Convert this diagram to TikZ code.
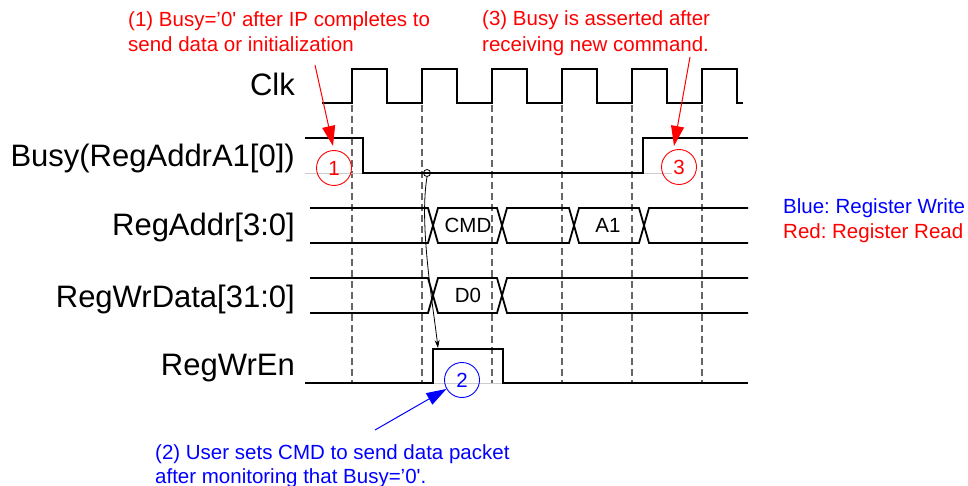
\documentclass[tikz,border=0pt]{standalone}
\usepackage{fontspec}
\setmainfont{Liberation Sans}
\usetikzlibrary{arrows.meta}
\frenchspacing
\begin{document}
\begin{tikzpicture}[x=1pt,y=-1pt,
  sig/.style={line width=1.8pt,black,line join=miter},
  gridline/.style={line width=1.3pt,black!60,dash pattern=on 7pt off 4pt},
  faint/.style={line width=0.8pt,black!20},
  lbl/.style={anchor=base east,font=\fontsize{31}{36}\selectfont,inner sep=0pt},
  small/.style={font=\fontsize{20.5}{25}\selectfont,inner sep=0pt},
  note/.style={small,anchor=base west},
  numcirc/.style={circle,draw,line width=0.9pt,minimum size=35pt,inner sep=0pt,small},
  redarrow/.style={red,line width=1pt,-{Triangle[length=20pt,width=13pt]}},
  bluearrow/.style={blue,line width=1pt,-{Triangle[length=20pt,width=13pt]}},
  blackarrow/.style={black,line width=0.8pt,-{Stealth[length=8pt,width=5pt]}}
]
\useasboundingbox (0,0) rectangle (968,486);

% dashed clock-edge guides
\foreach \x in {352,422,492,562,632,702}
  \draw[gridline] (\x,105) -- (\x,383);

% faint traces
\draw[faint] (305,173) -- (363,173);
\draw[faint] (643,173) -- (672,173);
\draw[faint] (433,383) -- (503,383);

% signal labels
\node[lbl] (lclk) at (295,96) {Clk};
\node[lbl] (lbusy) at (295,167) {Busy(RegAddrA1[0])};
\node[lbl] (laddr) at (295,236) {RegAddr[3:0]};
\node[lbl] (ldata) at (295,307) {RegWrData[31:0]};
\node[lbl] (lwren) at (295,375) {RegWrEn};

% Clk
\draw[sig] (322,103) -- (352,103) -- (352,69) -- (387,69) -- (387,103)
  -- (422,103) -- (422,69) -- (457,69) -- (457,103)
  -- (492,103) -- (492,69) -- (527,69) -- (527,103)
  -- (562,103) -- (562,69) -- (597,69) -- (597,103)
  -- (632,103) -- (632,69) -- (667,69) -- (667,103)
  -- (702,103) -- (702,69) -- (737,69) -- (737,103) -- (743,103);

% Busy
\draw[sig] (305,138) -- (363,138) -- (363,173) -- (643,173) -- (643,138) -- (748,138);

% RegAddr bus
\draw[sig] (310,208) -- (428,208) -- (438,243) -- (497,243) -- (507,208) -- (569,208)
  -- (579,243) -- (639,243) -- (649,208) -- (748,208);
\draw[sig] (310,243) -- (428,243) -- (438,208) -- (497,208) -- (507,243) -- (569,243)
  -- (579,208) -- (639,208) -- (649,243) -- (748,243);
\node[small] (cmd) at (468,225.5) {CMD};
\node[small] (a1) at (608,225.5) {A1};

% RegWrData bus
\draw[sig] (310,278) -- (428,278) -- (438,313) -- (497,313) -- (507,278) -- (748,278);
\draw[sig] (310,313) -- (428,313) -- (438,278) -- (497,278) -- (507,313) -- (748,313);
\node[small] (d0) at (468,295.5) {D0};

% RegWrEn
\draw[sig] (305,383) -- (433,383) -- (433,349) -- (503,349) -- (503,383) -- (748,383);

% numbered circles
\node[numcirc,draw=red,text=red] (c1) at (334,168) {1};
\node[numcirc,draw=red,text=red] (c3) at (679,167) {3};
\node[numcirc,draw=blue,text=blue] (c2) at (462,380) {2};

% monitoring marker and causal arrow
\node[circle,draw,line width=0.8pt,minimum size=7pt,inner sep=0pt] (mon) at (427,173) {};
\coordinate (wrup) at (438,348);
\draw[blackarrow] (mon.south) .. controls (419,225) and (433,305) .. (wrup);

% annotations
\node[note,text=red] (t1a) at (128,27) {(1) Busy=’0\textquotesingle{} after IP completes to};
\node[note,text=red] (t1b) at (128,52) {send data or initialization};
\node[note,text=red] (t3a) at (482,26) {(3) Busy is asserted after};
\node[note,text=red] (t3b) at (482,52) {receiving new command.};
\node[note,text=blue] (t2a) at (155,459) {(2) User sets CMD to send data packet};
\node[note,text=blue] (t2b) at (155,483) {after monitoring that Busy=’0\textquotesingle.};

\coordinate (a1s) at (315,65);
\coordinate (a1e) at (333,146);
\draw[redarrow] (a1s) -- (a1e);
\coordinate (a3s) at (690,57);
\coordinate (a3e) at (674,146);
\draw[redarrow] (a3s) -- (a3e);
\coordinate (a2s) at (375,430);
\draw[bluearrow] (a2s) -- (c2);

% legend
\node[note,text=blue] (lgb) at (783,214) {Blue: Register Write};
\node[note,text=red] (lgr) at (783,239) {Red: Register Read};
\end{tikzpicture}
\end{document}
